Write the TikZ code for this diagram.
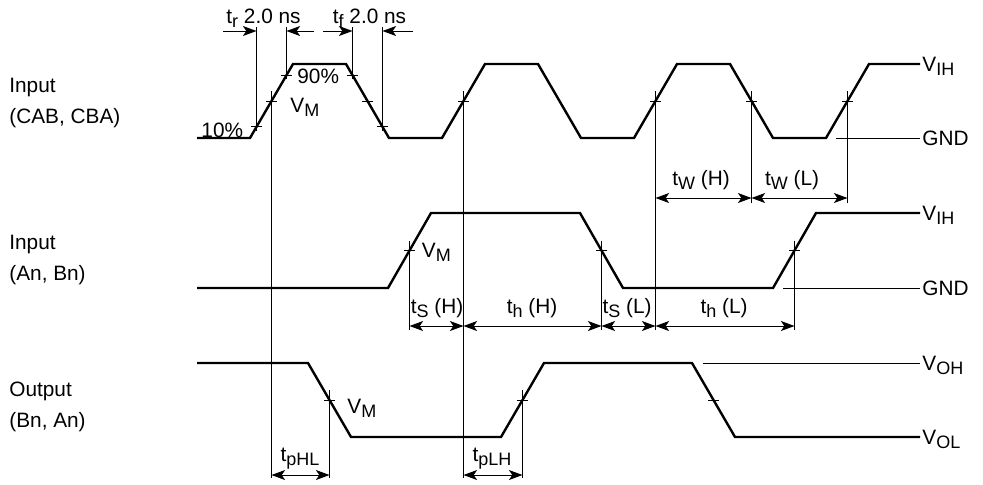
\documentclass[tikz,border=0pt]{standalone}
\usepackage{fontspec}
\setmainfont{Liberation Sans}
\usetikzlibrary{arrows.meta}
\newcommand\sbs[1]{\raisebox{-2.2pt}{\fontsize{9}{10}\selectfont #1}}
\tikzset{
    timing/.style   = {x=0.5pt, y=-0.5pt,
                       >={Stealth[length=6.8pt, width=5pt, inset=1.7pt]},
                       font=\fontsize{10.4}{15.5}\selectfont},
    wave/.style     = {line width=1.2pt, line join=miter},
    guide/.style    = {line width=0.5pt},
    tickmark/.style = {line width=0.5pt},
    dim/.style      = {guide, <->},
    halfdim/.style  = {guide, ->},
    txt/.style      = {inner sep=0pt},
    level/.style    = {txt, anchor=base west},
    signame/.style  = {txt, anchor=north west, align=left}
}

\begin{document}
\begin{tikzpicture}[timing]
\useasboundingbox (0,0) rectangle (983,484);

% Signal names
\node[signame] (in1) at (9,78)    {Input\\(CAB, CBA)};
\node[signame] (in2) at (9,235)   {Input\\(An, Bn)};
\node[signame] (out) at (9,381.5) {Output\\(Bn, An)};

% Waveforms
\draw[wave] (197,138)
    \foreach \e in {250,442,634} { -- (\e,138) -- ++(43,-74) -- ++(53,0) -- ++(43,74) }
    -- (826,138) -- ++(43,-74) -- (920,64);
\draw[wave] (197,288) -- (388,288) -- ++(43,-75) -- (580,213) -- ++(43,75)
    -- (773,288) -- ++(43,-75) -- (920,213);
\draw[wave] (197,363) -- (308,363) -- ++(43,74) -- (501,437) -- ++(43,-74)
    -- (692,363) -- ++(43,74) -- (920,437);

% Levels on the right
\node[level] (ih1) at (922,71)  {V\sbs{IH}};
\node[level] (gnd1) at (922,145) {GND};
\node[level] (ih2) at (922,220) {V\sbs{IH}};
\node[level] (gnd2) at (922,295) {GND};
\node[level] (oh) at (922,370)  {V\sbs{OH}};
\node[level] (ol) at (922,444)  {V\sbs{OL}};
\coordinate (g1) at (836,138);
\coordinate (g2) at (783,288);
\coordinate (g3) at (703,363);
\draw[guide] (g1) -- ([xshift=-1pt]gnd1.west |- g1);
\draw[guide] (g2) -- ([xshift=-1pt]gnd2.west |- g2);
\draw[guide] (g3) -- ([xshift=-1pt]oh.west |- g3);

% Measuring points on the edges
\foreach \m/\x/\y in {r10/256.5/126.9, r90/286.5/75.1, f90/352.5/75.1, f10/382.5/126.9,
        a1/271.5/101, a2/367.5/101, a3/463.5/101, a4/655.5/101, a5/751.5/101, a6/847.5/101,
        b1/409.5/250.5, b2/601.5/250.5, b3/794.5/250.5,
        c1/329.5/400, c2/522.5/400, c3/713.5/400}
{
    \coordinate (\m) at (\x,\y);
    \draw[tickmark] ([xshift=-2.75pt]\m) -- ([xshift=2.75pt]\m);
}

% Guide lines
\foreach \m in {r10,r90,f90,f10}
    \draw[guide] (\m |- 0,27) -- ([yshift=-2pt]\m);
\foreach \m/\b in {a1/478, a3/478, a4/330, a5/203, a6/203,
        b1/330, b2/330, b3/330, c1/478, c2/478}
    \draw[guide] ([yshift=5pt]\m) -- (\m |- 0,\b);

% Rise and fall times
\coordinate (trL) at (223,31);
\coordinate (trR) at (314,31);
\coordinate (tfL) at (323,31);
\coordinate (tfR) at (413,31);
\draw[halfdim] (trL) -- (r10 |- trL);
\draw[halfdim] (trR) -- (r90 |- trR);
\draw[halfdim] (tfL) -- (f90 |- tfL);
\draw[halfdim] (tfR) -- (f10 |- tfR);
\node[txt, anchor=base west] (tr) at (226,23.5)   {t\sbs{r} 2.0 ns};
\node[txt, anchor=base west] (tf) at (332.5,23.5) {t\sbs{f} 2.0 ns};
\node[txt, anchor=base east] (lo) at (243.5,137)  {10\%};
\node[txt, anchor=base west] (hi) at (297,83)     {90\%};

% Switching level labels
\node[txt, anchor=base west] (vm1) at (290,112)     {V\sbs{M}};
\node[txt, anchor=base west] (vm2) at (421.5,257.5) {V\sbs{M}};
\node[txt, anchor=base west] (vm3) at (347,413)     {V\sbs{M}};

% Pulse widths, set-up, hold and propagation times
\foreach \p/\q/\y in {a4/a5/198, a5/a6/198,
        b1/a3/326, a3/b2/326, b2/a4/326, a4/b3/326,
        a1/c1/475, a3/c2/475}
    \draw[dim] (\p |- 0,\y) -- (\q |- 0,\y);
\node[txt, anchor=base] (twh) at (701,185)    {t\sbs{W} (H)};
\node[txt, anchor=base] (twl) at (792,185)    {t\sbs{W} (L)};
\node[txt, anchor=base] (tsh) at (437,313.5)  {t\sbs{S} (H)};
\node[txt, anchor=base] (thh) at (532,313.5)  {t\sbs{h} (H)};
\node[txt, anchor=base] (tsl) at (627,313.5)  {t\sbs{S} (L)};
\node[txt, anchor=base] (thl) at (724,313.5)  {t\sbs{h} (L)};
\node[txt, anchor=base] (tphl) at (300,461.5) {t\sbs{pHL}};
\node[txt, anchor=base] (tplh) at (492,461.5) {t\sbs{pLH}};

\end{tikzpicture}
\end{document}
